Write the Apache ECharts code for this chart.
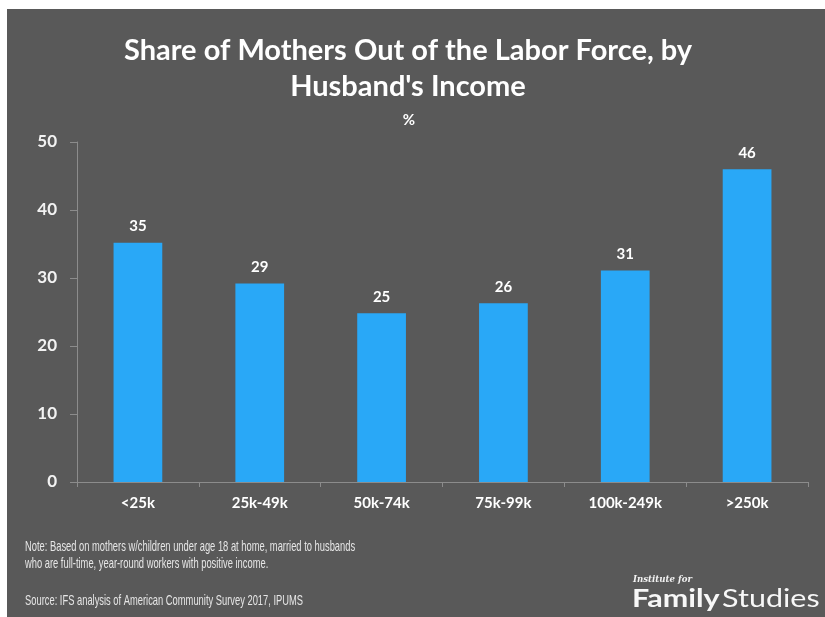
<!DOCTYPE html>
<html>
<head>
<meta charset="utf-8">
<title>Share of Mothers Out of the Labor Force</title>
<script src="https://cdn.jsdelivr.net/npm/echarts@6/dist/echarts.min.js"></script>
<style>
  html, body { margin: 0; padding: 0; background: #ffffff; }
  #chart { position: absolute; left: 0; top: 0; width: 825px; height: 617px; }
</style>
</head>
<body>
<div id="chart"></div>
<script>
// data
var incomeGroups = ['<25k', '25k-49k', '50k-74k', '75k-99k', '100k-249k', '>250k']
var shareOutOfLaborForce = [35.2, 29.2, 24.8, 26.3, 31.1, 46.0]
var yTicks = [0, 10, 20, 30, 40, 50]

var noteLines = [
  'Note: Based on mothers w/children under age 18 at home, married to husbands',
  'who are full-time, year-round workers with positive income.'
]
var sourceText = 'Source: IFS analysis of American Community Survey 2017, IPUMS'

var chart = echarts.init(document.getElementById('chart'))

// 标题字体近似 Calibri
var titleFont = 'Lato, "Open Sans", sans-serif'
// 脚注是窄体 Arial，用横向缩放近似
var noteFont = '14.5px "Liberation Sans", Arial, sans-serif'

chart.setOption({
  backgroundColor: 'transparent',
  animation: false,
  graphic: [
    {
      // 灰色底板
      type: 'rect',
      z: -10,
      shape: { x: 7, y: 9, width: 818, height: 608 },
      style: { fill: '#595959' }
    },
    {
      type: 'text',
      x: 25,
      y: 538,
      scaleX: 0.645,
      style: {
        text: noteLines.join('\n'),
        fill: '#e6e6e6',
        font: noteFont,
        lineHeight: 17,
        verticalAlign: 'top'
      }
    },
    {
      type: 'text',
      x: 25,
      y: 593,
      scaleX: 0.645,
      style: {
        text: sourceText,
        fill: '#e6e6e6',
        font: noteFont,
        verticalAlign: 'top'
      }
    },
    {
      type: 'text',
      x: 633,
      y: 574,
      scaleX: 0.86,
      style: {
        text: 'Institute for',
        fill: '#f2f2f2',
        font: 'italic bold 10px "DejaVu Serif", "Liberation Serif", serif',
        verticalAlign: 'top'
      }
    },
    {
      type: 'text',
      x: 632,
      y: 586,
      scaleX: 1.22,
      style: {
        text: '{b|Family}{r|Studies}',
        verticalAlign: 'top',
        rich: {
          b: { fill: '#f7f7f7', font: 'bold 25px Lato, sans-serif' },
          r: { fill: '#f7f7f7', font: '25px Lato, sans-serif', padding: [0, 0, 0, 2] }
        }
      }
    }
  ],
  title: [
    {
      text: 'Share of Mothers Out of the Labor Force, by\nHusband\'s Income',
      left: 403,
      top: 28,
      textAlign: 'center',
      textStyle: {
        color: '#ffffff',
        fontFamily: titleFont,
        fontWeight: 'bold',
        fontSize: 29,
        lineHeight: 36
      }
    },
    {
      text: '%',
      left: 404,
      top: 108,
      textAlign: 'center',
      textStyle: {
        color: '#ffffff',
        fontFamily: titleFont,
        fontWeight: 'bold',
        fontSize: 15
      }
    }
  ],
  grid: {
    left: 77,
    right: 17,
    top: 142,
    bottom: 135
  },
  xAxis: {
    type: 'category',
    data: incomeGroups,
    axisLine: { lineStyle: { color: '#8c8c8c', width: 1 } },
    axisTick: { show: true, length: 5, lineStyle: { color: '#8c8c8c' } },
    axisLabel: {
      color: '#ffffff',
      fontFamily: titleFont,
      fontWeight: 'bold',
      fontSize: 15,
      margin: 14
    }
  },
  yAxis: {
    type: 'value',
    min: yTicks[0],
    max: yTicks[yTicks.length - 1],
    interval: yTicks[1] - yTicks[0],
    axisLine: { show: true, lineStyle: { color: '#8c8c8c', width: 1 } },
    axisTick: { show: true, length: 7, lineStyle: { color: '#8c8c8c' } },
    splitLine: { show: false },
    axisLabel: {
      color: '#f2f2f2',
      fontFamily: titleFont,
      fontWeight: 'bold',
      fontSize: 17,
      margin: 20
    }
  },
  series: [{
    type: 'bar',
    data: shareOutOfLaborForce,
    barWidth: '40%',
    itemStyle: { color: '#29a8f7' },
    label: {
      show: true,
      position: 'top',
      distance: 9,
      color: '#ffffff',
      fontFamily: titleFont,
      fontWeight: 'bold',
      fontSize: 15,
      formatter: function (p) { return Math.round(p.value) }
    }
  }]
})
</script>
</body>
</html>
